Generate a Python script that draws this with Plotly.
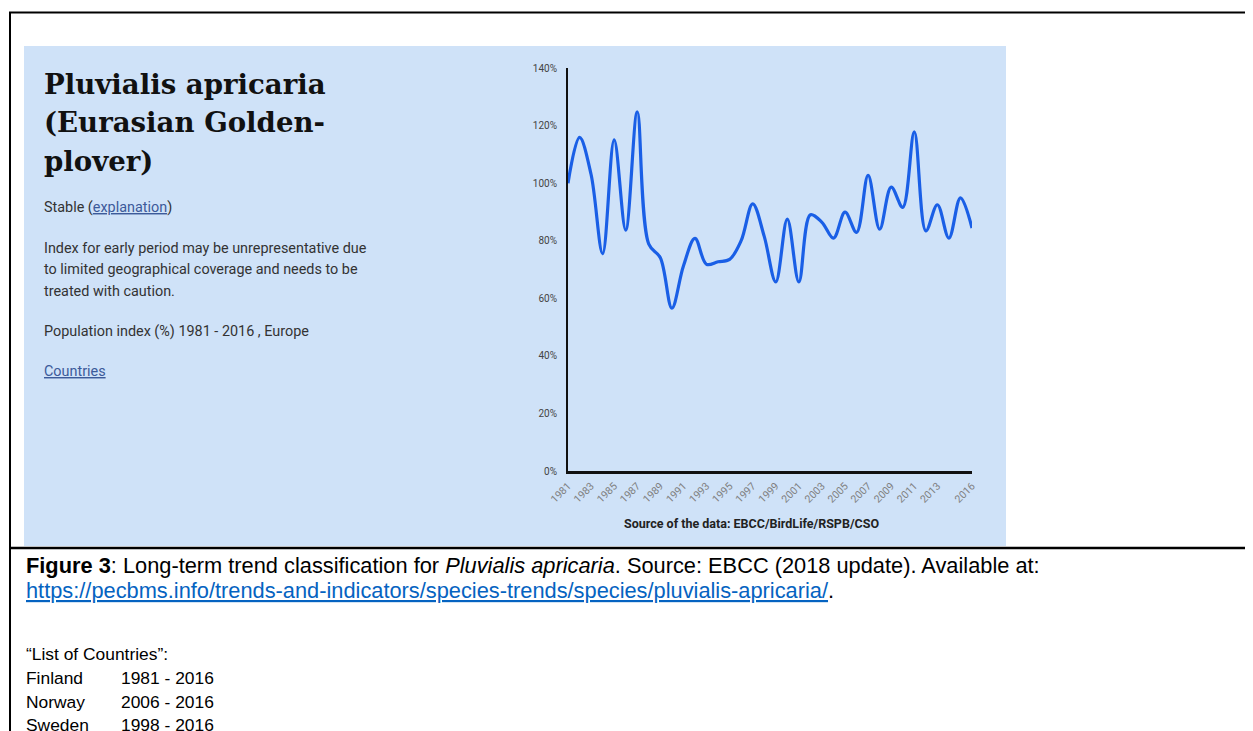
import plotly.graph_objects as go

# ---------------- data ----------------
years = list(range(1981, 2017))
index_pct = [100, 115.9, 103, 75.5, 115, 83.7, 124.8, 78.8, 74.1, 56.6,
             71.2, 80.8, 71.8, 72.7, 73.5, 80, 92.8, 81.5, 65.7, 87.5,
             65.7, 89.0, 86.4, 80.9, 89.9, 82.9, 102.7, 84, 98.6, 91.6,
             117.8, 83.4, 92.5, 80.9, 94.9, 84.4]
x_tick_years = [1981, 1983, 1985, 1987, 1989, 1991, 1993, 1995, 1997, 1999,
                2001, 2003, 2005, 2007, 2009, 2011, 2013, 2016]
x_tick_labels = [str(y) for y in x_tick_years]
y_tick_vals = [0, 20, 40, 60, 80, 100, 120, 140]
y_tick_labels = ["0%", "20%", "40%", "60%", "80%", "100%", "120%", "140%"]

title_lines = ["Pluvialis apricaria", "(Eurasian Golden-", "plover)"]
note_lines = ["Index for early period may be unrepresentative due",
              "to limited geographical coverage and needs to be",
              "treated with caution."]
countries = ["Finland", "Norway", "Sweden"]
periods = ["1981 - 2016", "2006 - 2016", "1998 - 2016"]

# ---------------- layout geometry (page pixels) ----------------
OFF = 8                      # default body margin of the html page
W, H = 1253 - OFF, 731 - OFF
L, R, T, B = 568, 972, 68, 471   # plot area in page pixels


def px(x):
    return (x - L) / (R - L)


def py(y):
    return (B - y) / (B - T)


fig = go.Figure()
fig.add_trace(go.Scatter(
    x=years, y=index_pct, mode="lines",
    line=dict(color="#1a5fe6", width=3.2, shape="spline", smoothing=1.0),
    hoverinfo="skip", showlegend=False))

shapes = [
    dict(type="rect", xref="paper", yref="paper", layer="below",
         x0=px(24), x1=px(1006), y0=py(46), y1=py(546),
         fillcolor="#cfe2f8", line=dict(width=0)),
    dict(type="line", xref="paper", yref="paper",
         x0=px(9), x1=px(1270), y0=py(12.5), y1=py(12.5),
         line=dict(color="black", width=2)),
    dict(type="line", xref="paper", yref="paper",
         x0=px(10), x1=px(10), y0=py(12), y1=py(760),
         line=dict(color="black", width=2)),
    dict(type="line", xref="paper", yref="paper",
         x0=px(10), x1=px(1270), y0=py(548), y1=py(548),
         line=dict(color="black", width=2.5)),
]

ann = []


def text(x, y, s, size, color="#333", family="Roboto", xanchor="left"):
    ann.append(dict(xref="paper", yref="paper", x=px(x), y=py(y), text=s,
                    showarrow=False, xanchor=xanchor, yanchor="middle",
                    font=dict(size=size, color=color, family=family)))


for i, line in enumerate(title_lines):
    text(42, 84.5 + i * 38.5, "<b>" + line + "</b>", 27.6, "#111", "DejaVu Serif")

BODY = 14.4
text(42, 208, "Stable (<span style='color:#3c5a9a'><u>explanation</u></span>)", BODY)
for i, line in enumerate(note_lines):
    text(42, 248 + i * 21.5, line, BODY)
text(42, 331, "Population index (%) 1981 - 2016 , Europe", BODY)
text(42, 371, "<span style='color:#3c5a9a'><u>Countries</u></span>", BODY)

text(751, 523, "<b>Source of the data: EBCC/BirdLife/RSPB/CSO</b>", 12.5, "#222",
     xanchor="center")

cap = "Liberation Sans"
CS = 21.8
CS2 = 17.4
text(24, 565, "<b>Figure 3</b>: Long-term trend classification for <i>Pluvialis apricaria</i>. "
     "Source: EBCC (2018 update). Available at:", CS, "#000", cap)
text(24, 590, "<span style='color:#0563c1'><u>https://pecbms.info/trends-and-indicators/"
     "species-trends/species/pluvialis-apricaria/</u></span>.", CS, "#000", cap)
text(24, 654, "“List of Countries”:", CS2, "#000", cap)
for i, (c, p) in enumerate(zip(countries, periods)):
    text(24, 678 + i * 23.5, c, CS2, "#000", cap)
    text(119, 678 + i * 23.5, p, CS2, "#000", cap)

fig.update_layout(
    width=W, height=H,
    margin=dict(l=L - OFF, r=W - (R - OFF), t=T - OFF, b=H - (B - OFF), pad=0),
    paper_bgcolor="white", plot_bgcolor="rgba(0,0,0,0)",
    shapes=shapes, annotations=ann,
    font=dict(family="Roboto", color="#444"),
    xaxis=dict(range=[1981, 2016], tickvals=x_tick_years, ticktext=x_tick_labels,
               tickangle=-45, showgrid=False, zeroline=False,
               showline=True, linecolor="#111", linewidth=2.5,
               ticks="outside", ticklen=2, tickcolor="rgba(0,0,0,0)",
               tickfont=dict(size=10.5, color="#808080", family="Roboto")),
    yaxis=dict(range=[0, 140], tickvals=y_tick_vals, ticktext=y_tick_labels,
               showgrid=False, zeroline=False,
               showline=True, linecolor="#111", linewidth=2,
               ticks="outside", ticklen=7, tickcolor="rgba(0,0,0,0)",
               tickfont=dict(size=10, color="#444", family="Roboto")),
)

fig.write_html("out.html")
